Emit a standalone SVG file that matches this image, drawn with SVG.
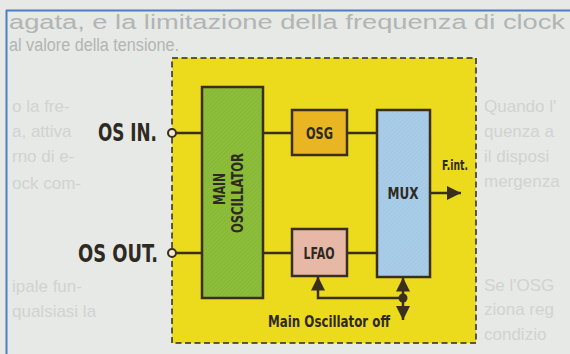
<svg xmlns="http://www.w3.org/2000/svg" width="570" height="354" viewBox="0 0 570 354">
  <style>
    .box{stroke:#3a2f1f;stroke-width:2.5}
    .wire{stroke:#3a2f1f;stroke-width:2.5;fill:none}
    .lbl{font-family:"Liberation Sans Narrow","DejaVu Sans Condensed","Liberation Sans",sans-serif;font-weight:bold;fill:#2e2a22}
    .pin{fill:#efe9cf;stroke:#3a2f1f;stroke-width:2}
    .bgtext{font-family:"Liberation Sans",Arial,sans-serif;fill:#b1b5b3}
    .ghost{font-family:"Liberation Sans",Arial,sans-serif;font-size:17px;fill:#d0d3d1}
  </style>
  <defs>
    <pattern id="hatchG" width="3" height="3" patternUnits="userSpaceOnUse" patternTransform="rotate(45)">
      <rect width="3" height="3" fill="#8dbe3a"/>
      <line x1="0" y1="0" x2="0" y2="3" stroke="#7fae30" stroke-width="1"/>
    </pattern>
    <pattern id="hatchB" width="3" height="3" patternUnits="userSpaceOnUse" patternTransform="rotate(45)">
      <rect width="3" height="3" fill="#a9cde8"/>
      <line x1="0" y1="0" x2="0" y2="3" stroke="#9cc2e0" stroke-width="1"/>
    </pattern>
    <marker id="arr" markerUnits="userSpaceOnUse" markerWidth="14" markerHeight="14" viewBox="0 0 12 12" refX="12" refY="6" orient="auto">
      <path d="M0,0 L12,6 L0,12 z" fill="#3a2f1f"/>
    </marker>
  </defs>

  <!-- page background -->
  <rect x="0" y="0" width="570" height="354" fill="#e7e9e7"/>
  <text class="bgtext" x="9" y="29" font-size="20" textLength="556" lengthAdjust="spacingAndGlyphs">agata, e la limitazione della frequenza di clock</text>
  <text class="bgtext" x="9" y="51" font-size="18" textLength="170" lengthAdjust="spacingAndGlyphs">al valore della tensione.</text>
  <g class="ghost">
    <text x="12" y="112">o la fre-</text>
    <text x="12" y="137">a, attiva</text>
    <text x="12" y="162">rno di e-</text>
    <text x="12" y="189">ock com-</text>
    <text x="12" y="292">ipale fun-</text>
    <text x="12" y="317">qualsiasi la</text>
    <text x="484" y="112">Quando l'</text>
    <text x="484" y="137">quenza a</text>
    <text x="484" y="162">il disposi</text>
    <text x="484" y="187">mergenza</text>
    <text x="484" y="291">Se l'OSG</text>
    <text x="484" y="315">ziona reg</text>
    <text x="484" y="340">condizio</text>
  </g>
  <path d="M6,10.5 H570 M6.5,10 V354" stroke="#4f7fc0" stroke-width="2" fill="none"/>

  <!-- chip area -->
  <g id="chip">
    <rect x="172" y="58" width="304" height="285" fill="#ecdb1c" stroke="#2a2a2a" stroke-width="1.5" stroke-dasharray="6,3.5"/>
  </g>

  <!-- connectors -->
  <g id="connectors">
    <path class="wire" d="M176,133 H202 M263,133 H292 M347,133 H377"/>
    <path class="wire" d="M176,253 H202 M263,253 H292 M347,253 H377"/>
    <path class="wire" d="M430,193 H461" marker-end="url(#arr)"/>
    <path class="wire" d="M403,298 H318 V276.5" marker-end="url(#arr)"/>
    <path class="wire" d="M403,298 V277.5" marker-end="url(#arr)"/>
    <path class="wire" d="M403,298 V320" marker-end="url(#arr)"/>
    <circle cx="403" cy="298" r="4.5" fill="#3a2f1f"/>
  </g>

  <g id="os_in">
    <circle class="pin" cx="172" cy="133" r="4"/>
    <text class="lbl" x="98" y="141" font-size="24" textLength="59" lengthAdjust="spacingAndGlyphs">OS IN.</text>
  </g>
  <g id="os_out">
    <circle class="pin" cx="172" cy="253" r="4"/>
    <text class="lbl" x="78" y="262" font-size="24" textLength="80" lengthAdjust="spacingAndGlyphs">OS OUT.</text>
  </g>

  <g id="main_oscillator">
    <rect class="box" x="202" y="87" width="61" height="211" fill="url(#hatchG)"/>
    <text class="lbl" transform="translate(225,189) rotate(-90)" text-anchor="middle" font-size="15" textLength="32" lengthAdjust="spacingAndGlyphs">MAIN</text>
    <text class="lbl" transform="translate(243,193) rotate(-90)" text-anchor="middle" font-size="15" textLength="80" lengthAdjust="spacingAndGlyphs">OSCILLATOR</text>
  </g>

  <g id="osg">
    <rect class="box" x="292" y="110" width="55" height="45" fill="#e9b523"/>
    <text class="lbl" x="319.5" y="138.5" text-anchor="middle" font-size="15" textLength="27" lengthAdjust="spacingAndGlyphs">OSG</text>
  </g>

  <g id="lfao">
    <rect class="box" x="292" y="229" width="55" height="47" fill="#e8b8a6"/>
    <text class="lbl" x="319" y="258.5" text-anchor="middle" font-size="15" textLength="31" lengthAdjust="spacingAndGlyphs">LFAO</text>
  </g>

  <g id="mux">
    <rect class="box" x="377" y="110" width="53" height="167" fill="url(#hatchB)"/>
    <text class="lbl" x="403" y="198.5" text-anchor="middle" font-size="16" textLength="31" lengthAdjust="spacingAndGlyphs">MUX</text>
  </g>

  <g id="f_int">
    <text class="lbl" x="442" y="170" font-size="13.5" textLength="26" lengthAdjust="spacingAndGlyphs">F.int.</text>
  </g>

  <g id="main_osc_off">
    <text class="lbl" x="268" y="327" font-size="15" textLength="122" lengthAdjust="spacingAndGlyphs">Main Oscillator off</text>
  </g>
</svg>
